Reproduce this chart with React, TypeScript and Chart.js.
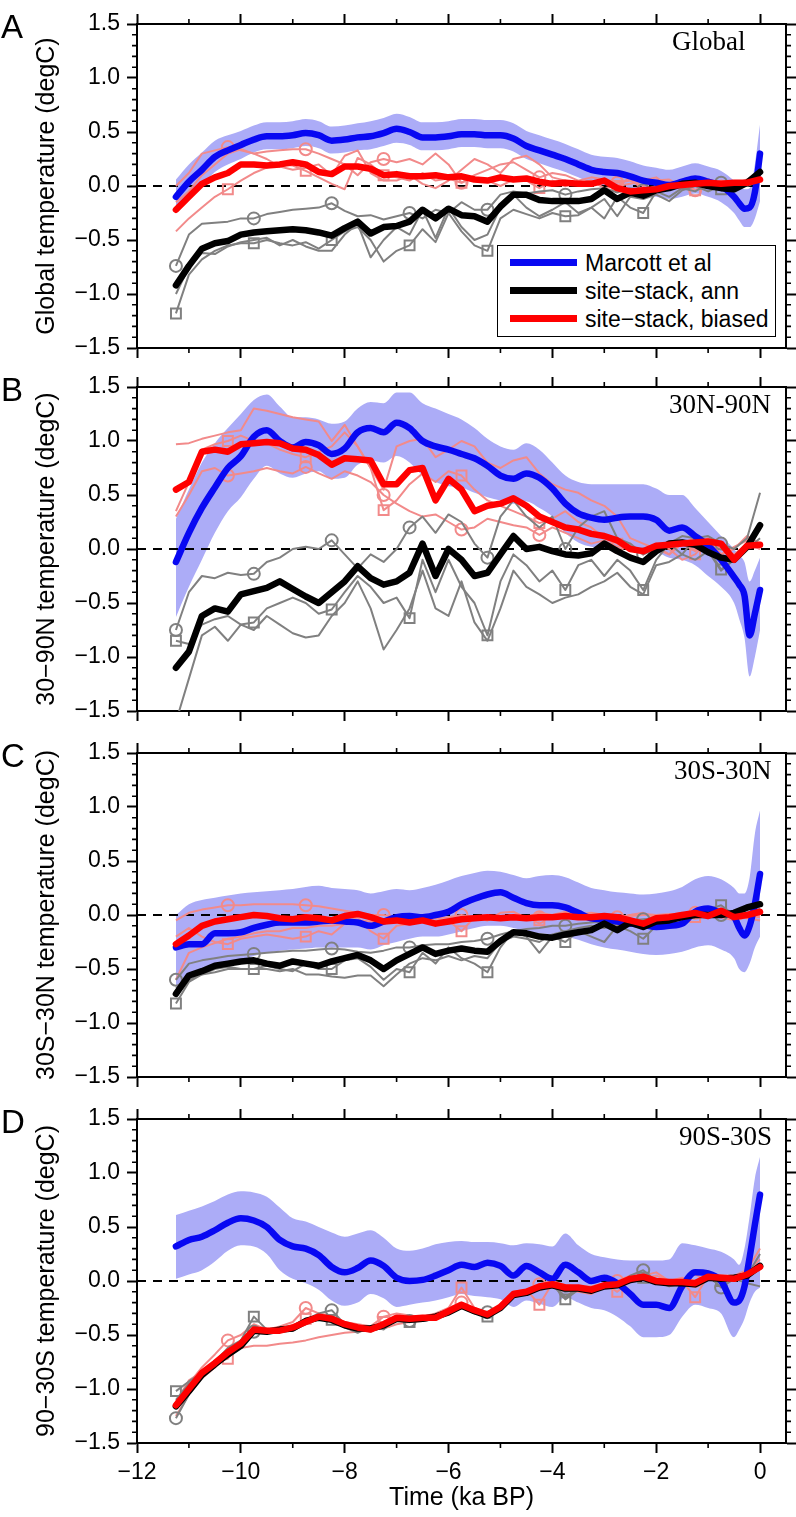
import React, { useEffect, useRef } from "react";
import { Chart, registerables } from "chart.js";
Chart.register(...registerables);

const FONT = "'Liberation Sans', Arial, Helvetica, sans-serif";
Chart.defaults.font.family = FONT;
Chart.defaults.color = "#000";

// ---------- axes / categories ----------
const T = [
  -11.25, -11, -10.75, -10.5, -10.25, -10, -9.75, -9.5, -9.25, -9,
  -8.75, -8.5, -8.25, -8, -7.75, -7.5, -7.25, -7, -6.75, -6.5,
  -6.25, -6, -5.75, -5.5, -5.25, -5, -4.75, -4.5, -4.25, -4,
  -3.75, -3.5, -3.25, -3, -2.75, -2.5, -2.25, -2, -1.75, -1.5,
  -1.25, -1, -0.75, -0.5, -0.25, 0,
];
const T_M = [
  -11.25, -11, -10.75, -10.5, -10.25, -10, -9.75, -9.5, -9.25, -9,
  -8.75, -8.5, -8.25, -8, -7.75, -7.5, -7.25, -7, -6.75, -6.5,
  -6.25, -6, -5.75, -5.5, -5.25, -5, -4.75, -4.5, -4.25, -4,
  -3.75, -3.5, -3.25, -3, -2.75, -2.5, -2.25, -2, -1.75, -1.5,
  -1.25, -1, -0.75, -0.5, -0.4, -0.3, -0.2, -0.1, 0,
];
const X_TICKS = [-12, -10, -8, -6, -4, -2, 0];
const X_MINOR = [-11, -9, -7, -5, -3, -1];
const Y_TICKS = [-1.5, -1, -0.5, 0, 0.5, 1, 1.5];
const Y_MINOR = [-1.4, -1.3, -1.2, -1.1, -0.9, -0.8, -0.7, -0.6, -0.4, -0.3, -0.2, -0.1,
  0.1, 0.2, 0.3, 0.4, 0.6, 0.7, 0.8, 0.9, 1.1, 1.2, 1.3, 1.4];
const ZERO_X = [-12, 0.5];
const ZERO_Y = [0, 0];
const GRAY_MARKS = [-11.25, -9.75, -8.25, -6.75, -5.25, -3.75, -2.25, -0.75];
const SAL_MARKS = [-10.25, -8.75, -7.25, -5.75, -4.25, -2.75, -1.25];
const LEGEND_LABELS = ["Marcott et al", "site\u2212stack, ann", "site\u2212stack, biased"];
const X_TITLE = "Time (ka BP)";

// ---------- Panel A : Global ----------
const A_BLUE = [
  -0.1, 0.04, 0.15, 0.27, 0.33, 0.38, 0.43, 0.46, 0.46, 0.47,
  0.49, 0.47, 0.42, 0.43, 0.45, 0.46, 0.49, 0.53, 0.5, 0.45,
  0.45, 0.46, 0.48, 0.48, 0.47, 0.47, 0.44, 0.37, 0.33, 0.29,
  0.25, 0.2, 0.15, 0.13, 0.12, 0.09, 0.05, 0.03, 0.01, 0.04,
  0.07, 0.04, 0.0, -0.1, -0.16, -0.21, -0.2, -0.06, 0.3,
];
const A_HI = [
  0.06, 0.2, 0.31, 0.42, 0.47, 0.51, 0.56, 0.59, 0.59, 0.6,
  0.62, 0.6, 0.55, 0.56, 0.58, 0.6, 0.63, 0.67, 0.64, 0.59,
  0.59, 0.6, 0.62, 0.62, 0.61, 0.61, 0.58, 0.51, 0.47, 0.43,
  0.39, 0.34, 0.29, 0.27, 0.26, 0.23, 0.19, 0.17, 0.15, 0.18,
  0.21, 0.18, 0.14, 0.05, 0.0, -0.03, -0.02, 0.2, 0.57,
];
const A_LO = [
  -0.24, -0.1, 0.01, 0.13, 0.2, 0.25, 0.31, 0.34, 0.34, 0.35,
  0.37, 0.35, 0.3, 0.31, 0.33, 0.34, 0.37, 0.4, 0.38, 0.33,
  0.33, 0.34, 0.36, 0.36, 0.35, 0.35, 0.32, 0.25, 0.21, 0.17,
  0.13, 0.08, 0.03, 0.0, -0.01, -0.04, -0.08, -0.1, -0.12, -0.1,
  -0.07, -0.1, -0.15, -0.25, -0.32, -0.38, -0.38, -0.3, -0.14,
];
const A_BLACK = [
  -0.92, -0.74, -0.58, -0.53, -0.51, -0.45, -0.43, -0.42, -0.41, -0.4,
  -0.41, -0.43, -0.46, -0.39, -0.33, -0.44, -0.38, -0.37, -0.33, -0.22,
  -0.3, -0.21, -0.27, -0.28, -0.33, -0.19, -0.08, -0.08, -0.13, -0.14,
  -0.14, -0.14, -0.12, -0.04, -0.12, -0.06, -0.09, -0.04, -0.02, 0.02,
  0.03, 0.0, -0.02, -0.03, 0.03, 0.13,
];
const A_RED = [
  -0.22, -0.1, 0.02, 0.08, 0.12, 0.2, 0.2, 0.19, 0.2, 0.22,
  0.2, 0.13, 0.11, 0.18, 0.18, 0.16, 0.1, 0.11, 0.09, 0.09,
  0.1, 0.08, 0.09, 0.06, 0.05, 0.08, 0.06, 0.07, 0.04, 0.02,
  0.03, 0.02, 0.02, 0.05, -0.02, -0.05, -0.04, -0.03, 0.0, 0.01,
  0.02, 0.03, 0.02, 0.03, 0.03, 0.06,
];
const A_GRAY1 = [
  -0.74, -0.45, -0.35, -0.34, -0.33, -0.3, -0.3, -0.26, -0.24, -0.22,
  -0.21, -0.2, -0.16, -0.23, -0.28, -0.27, -0.31, -0.28, -0.25, -0.3,
  -0.22, -0.25, -0.15, -0.22, -0.22, -0.08, -0.05, -0.07, -0.05, -0.04,
  -0.08, -0.05, -0.03, -0.02, -0.06, -0.02, -0.04, 0.0, 0.02, -0.02,
  0.03, 0.05, 0.03, 0.0, 0.0, 0.05,
];
const A_GRAY2 = [
  -1.0, -0.75, -0.62, -0.63, -0.56, -0.52, -0.5, -0.48, -0.55, -0.5,
  -0.56, -0.6, -0.6, -0.45, -0.35, -0.66, -0.5, -0.38, -0.45, -0.22,
  -0.48, -0.2, -0.38, -0.5, -0.45, -0.2, -0.08, -0.2, -0.28, -0.22,
  -0.15, -0.25, -0.2, -0.12, -0.28, -0.1, -0.12, -0.08, -0.14, -0.04,
  0.0, -0.05, 0.0, -0.05, 0.02, 0.1,
];
const A_GRAY3 = [
  -1.18, -0.82, -0.68, -0.6, -0.55, -0.53, -0.53, -0.5, -0.53, -0.55,
  -0.52, -0.58, -0.5, -0.42, -0.38, -0.5, -0.7, -0.6, -0.55, -0.4,
  -0.52, -0.25, -0.42, -0.55, -0.6, -0.3, -0.22, -0.26, -0.3, -0.25,
  -0.28, -0.27, -0.2, -0.3, -0.1, -0.2, -0.25, -0.05, -0.1, -0.02,
  -0.05, 0.02, -0.03, 0.0, 0.03, 0.07,
];
const A_SAL1 = [
  0.0, 0.12, 0.3, 0.33, 0.36, 0.33, 0.3, 0.32, 0.33, 0.34,
  0.34, 0.3, 0.25, 0.2, 0.1, 0.22, 0.25, 0.22, 0.25, 0.2,
  0.3, 0.2, 0.03, 0.1, 0.15, 0.2, 0.22, 0.15, 0.08, 0.12,
  0.1, 0.05, 0.08, 0.06, 0.03, 0.05, 0.0, 0.05, 0.06, 0.0,
  -0.04, 0.02, 0.05, 0.03, 0.05, 0.05,
];
const A_SAL2 = [
  -0.42, -0.3, -0.2, -0.1, -0.03, 0.05, 0.12, 0.17, 0.2, 0.19,
  0.14, 0.08, 0.02, -0.03, 0.26, 0.2, 0.1, 0.08, 0.05, 0.12,
  0.05, 0.07, 0.03, 0.08, 0.05, 0.0, 0.06, 0.05, -0.02, 0.05,
  0.0, 0.03, 0.05, -0.02, 0.0, 0.08, -0.05, 0.0, 0.03, 0.05,
  -0.04, 0.02, 0.0, 0.03, 0.05, 0.08,
];
const A_SAL3 = [
  -0.15, -0.05, 0.1, 0.2, 0.3, 0.34, 0.3, 0.25, 0.18, 0.15,
  0.17, 0.2, 0.1, 0.28, 0.33, 0.12, 0.05, 0.05, 0.1, 0.02,
  -0.02, 0.05, 0.15, 0.25, 0.2, 0.12, 0.25, 0.28, 0.2, 0.08,
  0.05, 0.02, 0.0, 0.05, 0.0, 0.02, 0.05, 0.08, 0.0, 0.06,
  0.02, 0.0, -0.03, 0.02, 0.06, 0.1,
];

// ---------- Panel B : 30N-90N ----------
const B_BLUE = [
  -0.12, 0.15, 0.38, 0.57, 0.75, 0.86, 1.04, 1.1, 1.0, 0.94,
  0.99, 0.96, 0.88, 0.93, 1.08, 1.12, 1.08, 1.17, 1.12, 1.0,
  0.95, 0.92, 0.88, 0.84, 0.77, 0.68, 0.65, 0.7, 0.66, 0.56,
  0.42, 0.33, 0.29, 0.27, 0.29, 0.3, 0.3, 0.27, 0.17, 0.2,
  0.12, 0.03, -0.1, -0.26, -0.33, -0.43, -0.8, -0.6, -0.38,
];
const B_HI = [
  0.28, 0.55, 0.8, 0.98, 1.12, 1.25, 1.38, 1.43, 1.32, 1.22,
  1.22, 1.2, 1.16, 1.18, 1.3, 1.36, 1.35, 1.45, 1.45, 1.35,
  1.3, 1.25, 1.2, 1.12, 1.02, 0.95, 0.92, 0.98, 0.92, 0.8,
  0.68, 0.62, 0.6, 0.6, 0.6, 0.6, 0.6, 0.56, 0.5, 0.5,
  0.38, 0.25, 0.12, 0.0, -0.06, -0.12, -0.3, -0.2, -0.08,
];
const B_LO = [
  -0.63, -0.35, -0.1, 0.15, 0.35, 0.48, 0.65, 0.77, 0.7, 0.66,
  0.7, 0.72, 0.65, 0.66, 0.78, 0.82, 0.8, 0.86, 0.8, 0.68,
  0.62, 0.58, 0.57, 0.52, 0.48, 0.45, 0.42, 0.44, 0.38, 0.3,
  0.15, 0.06, 0.02, 0.0, 0.0, 0.0, -0.02, -0.03, -0.08, -0.1,
  -0.15, -0.25, -0.35, -0.5, -0.65, -0.82, -1.18, -1.0, -0.75,
];
const B_BLACK = [
  -1.1, -0.95, -0.62, -0.55, -0.58, -0.42, -0.39, -0.36, -0.3, -0.37,
  -0.44, -0.5, -0.4, -0.3, -0.16, -0.27, -0.33, -0.3, -0.22, 0.05,
  -0.25, 0.0, -0.1, -0.25, -0.22, -0.05, 0.12, 0.0, 0.02, -0.02,
  -0.05, -0.06, -0.04, 0.05, -0.02, -0.08, -0.12, -0.02, 0.05, 0.06,
  0.04, -0.03, -0.08, -0.1, 0.02, 0.22,
];
const B_RED = [
  0.55, 0.62, 0.9, 0.92, 0.9, 0.97, 0.98, 0.99, 0.98, 0.93,
  0.92, 0.87, 0.78, 0.84, 0.83, 0.82, 0.6, 0.6, 0.73, 0.75,
  0.45, 0.65, 0.55, 0.35, 0.4, 0.42, 0.47, 0.4, 0.3, 0.25,
  0.2, 0.18, 0.14, 0.12, 0.08, 0.0, -0.02, 0.03, 0.04, 0.05,
  0.06, 0.07, 0.05, -0.1, 0.03, 0.04,
];
const B_GRAY1 = [
  -0.75, -0.4, -0.25, -0.27, -0.22, -0.24, -0.23, -0.12, -0.08, 0.0,
  0.02, 0.0, 0.08, -0.05, -0.18, -0.05, -0.12, 0.0, 0.2, 0.3,
  0.15, 0.32, 0.25, 0.05, -0.08, 0.3, 0.45, 0.3, 0.2, 0.3,
  0.0, 0.2, 0.3, 0.35, 0.1, 0.05, -0.05, 0.0, 0.05, 0.12,
  0.1, 0.12, 0.05, 0.0, 0.1, 0.52,
];
const B_GRAY2 = [
  -1.6, -1.2, -0.8, -0.72, -0.85, -0.7, -0.75, -0.62, -0.7, -0.78,
  -0.82, -0.8, -0.62, -0.5, -0.3, -0.55, -0.93, -0.75, -0.55, -0.2,
  -0.55, -0.62, -0.3, -0.68, -0.85, -0.55, -0.2, -0.35, -0.42, -0.5,
  -0.45, -0.42, -0.35, -0.3, -0.22, -0.35, -0.42, -0.15, -0.12, -0.05,
  -0.1, -0.02, -0.2, -0.1, 0.0, 0.05,
];
const B_GRAY3 = [
  -0.85, -0.88, -0.7, -0.65, -0.62, -0.7, -0.68, -0.55, -0.5, -0.45,
  -0.5, -0.6, -0.56, -0.4, -0.25, -0.35, -0.5, -0.45, -0.64, -0.1,
  -0.4, -0.1, -0.35, -0.5, -0.8, -0.3, -0.05, -0.15, -0.3, -0.2,
  -0.38, -0.15, -0.1, -0.25, -0.1, -0.2, -0.38, -0.1, 0.05, -0.05,
  0.1, 0.0, -0.19, -0.1, 0.0, 0.1,
];
const B_SAL_HIGH = [
  0.97, 0.98, 1.02, 1.05, 1.08, 1.1, 1.3, 1.28, 1.25, 1.22,
  1.2, 1.18, 1.0, 1.15, 0.95, 0.75, 0.55, 0.95, 1.0, 1.02,
  0.85, 0.92, 1.0, 0.95, 0.8, 0.75, 0.82, 0.85, 0.7, 0.6,
  0.55, 0.52, 0.45, 0.4, 0.3, 0.1, 0.05, 0.0, -0.05, 0.05,
  -0.02, 0.08, -0.05, 0.0, 0.12, 0.05,
];
const B_SAL_CIRC = [
  0.3, 0.5, 0.72, 0.75, 0.68, 0.7, 0.72, 0.75, 0.72, 0.7,
  0.76, 0.7, 0.65, 0.72, 0.68, 0.62, 0.5, 0.42, 0.35, 0.3,
  0.32, 0.25, 0.18, 0.2, 0.28, 0.25, 0.22, 0.2, 0.13, 0.2,
  0.15, 0.1, 0.05, 0.08, 0.02, 0.05, -0.05, 0.02, -0.05, 0.08,
  0.05, 0.1, 0.0, -0.05, 0.05, 0.0,
];
const B_SAL_SQ = [
  0.35, 0.62, 0.92, 0.97, 1.0, 1.05, 1.0, 0.98, 0.92, 0.88,
  0.85, 0.9, 0.95, 1.08, 0.95, 0.75, 0.36, 0.45, 0.6, 0.7,
  0.62, 0.72, 0.68, 0.55, 0.45, 0.4, 0.35, 0.3, 0.24, 0.28,
  0.35, 0.25, 0.2, 0.1, 0.05, 0.0, -0.05, 0.05, 0.0, -0.1,
  -0.05, 0.08, -0.05, 0.02, 0.08, 0.0,
];

// ---------- Panel C : 30S-30N ----------
const C_BLUE = [
  -0.3, -0.27, -0.27, -0.17, -0.17, -0.16, -0.12, -0.09, -0.07, -0.07,
  -0.07, -0.06, -0.05, -0.06, -0.07, -0.1, -0.06, -0.02, -0.01, -0.02,
  0.0, 0.03, 0.1, 0.15, 0.19, 0.21, 0.16, 0.11, 0.09, 0.09,
  0.07, 0.02, -0.03, -0.04, -0.06, -0.08, -0.09, -0.11, -0.1, -0.08,
  0.03, 0.06, 0.02, -0.02, -0.12, -0.19, -0.1, 0.1, 0.38,
];
const C_HI = [
  0.0, 0.1, 0.14, 0.16, 0.18, 0.2, 0.21, 0.22, 0.23, 0.24,
  0.26, 0.27, 0.25, 0.24, 0.23, 0.2, 0.22, 0.24, 0.23, 0.25,
  0.28, 0.32, 0.36, 0.39, 0.41, 0.4, 0.37, 0.34, 0.36, 0.37,
  0.35, 0.3, 0.25, 0.23, 0.21, 0.2, 0.19, 0.2, 0.22, 0.26,
  0.33, 0.36, 0.33, 0.25, 0.2, 0.2, 0.35, 0.75, 0.97,
];
const C_LO = [
  -0.7, -0.6, -0.55, -0.48, -0.45, -0.42, -0.38, -0.35, -0.33, -0.32,
  -0.31, -0.3, -0.3, -0.3, -0.3, -0.32, -0.28, -0.25, -0.22, -0.2,
  -0.2, -0.18, -0.15, -0.12, -0.1, -0.1, -0.12, -0.15, -0.17, -0.18,
  -0.2, -0.23, -0.27, -0.3, -0.32, -0.34, -0.36, -0.37, -0.36, -0.34,
  -0.3, -0.28, -0.32, -0.4, -0.5, -0.53, -0.45, -0.3, -0.2,
];
const C_BLACK = [
  -0.73, -0.56, -0.52, -0.47, -0.45, -0.43, -0.42, -0.45, -0.47, -0.43,
  -0.45, -0.47, -0.43, -0.4, -0.37, -0.42, -0.5, -0.42, -0.36, -0.3,
  -0.36, -0.33, -0.31, -0.33, -0.34, -0.24, -0.16, -0.17, -0.2, -0.21,
  -0.18, -0.16, -0.14, -0.08, -0.14, -0.07, -0.11, -0.06, -0.05, -0.02,
  0.0, 0.0, 0.0, 0.02, 0.07, 0.1,
];
const C_RED = [
  -0.27, -0.19, -0.1, -0.06, -0.04, -0.02, 0.0, -0.01, -0.03, -0.04,
  -0.02, -0.03, -0.05, -0.01, 0.01, -0.02, -0.06, -0.05, -0.07, -0.05,
  -0.08, -0.06, -0.04, -0.03, -0.02, -0.03, -0.02, -0.03, -0.02, -0.02,
  -0.01, -0.02, -0.02, -0.01, -0.02, -0.05, -0.08, -0.03, -0.02, 0.0,
  0.02, -0.01, 0.04, -0.02, 0.0, 0.03,
];
const C_GRAY1 = [
  -0.6, -0.45, -0.42, -0.4, -0.38, -0.37, -0.36, -0.35, -0.34, -0.33,
  -0.33, -0.32, -0.31, -0.32, -0.34, -0.35, -0.33, -0.3, -0.3, -0.28,
  -0.27, -0.27, -0.25, -0.24, -0.22, -0.18, -0.15, -0.13, -0.12, -0.1,
  -0.1, -0.08, -0.07, -0.06, -0.05, -0.05, -0.04, -0.03, -0.03, -0.02,
  -0.01, -0.01, 0.0, 0.0, 0.01, 0.02,
];
const C_GRAY2 = [
  -0.68, -0.6, -0.55, -0.53, -0.5, -0.5, -0.5, -0.5, -0.52, -0.5,
  -0.55, -0.55, -0.57, -0.58, -0.56, -0.56, -0.66, -0.55, -0.45, -0.4,
  -0.42, -0.38, -0.42, -0.38, -0.4, -0.25, -0.2, -0.22, -0.25, -0.18,
  -0.15, -0.12, -0.1, -0.12, -0.08, -0.1, -0.05, -0.05, -0.02, 0.0,
  0.02, 0.01, 0.0, -0.02, 0.05, 0.05,
];
const C_GRAY3 = [
  -0.82, -0.62, -0.55, -0.5, -0.48, -0.5, -0.5, -0.47, -0.5, -0.52,
  -0.45, -0.5, -0.5, -0.42, -0.4, -0.48, -0.6, -0.5, -0.53, -0.35,
  -0.45, -0.3, -0.4, -0.45, -0.53, -0.3, -0.15, -0.2, -0.35, -0.2,
  -0.25, -0.15, -0.2, -0.25, -0.1, -0.15, -0.22, -0.1, -0.05, -0.02,
  0.02, 0.05, 0.09, 0.0, 0.05, 0.1,
];
const C_SAL1 = [
  -0.05, 0.02, 0.05, 0.07, 0.09, 0.09, 0.1, 0.1, 0.1, 0.1,
  0.09, 0.08, 0.06, 0.04, 0.02, 0.0, 0.0, -0.02, 0.0, -0.02,
  -0.03, -0.02, 0.0, -0.02, -0.04, -0.02, 0.0, -0.03, -0.02, 0.0,
  -0.02, -0.03, -0.01, 0.0, -0.02, -0.01, 0.0, 0.0, 0.01, -0.01,
  0.02, 0.0, -0.02, 0.0, -0.03, -0.05,
];
const C_SAL2 = [
  -0.2, -0.12, -0.2, -0.25, -0.27, -0.22, -0.2, -0.18, -0.2, -0.22,
  -0.2, -0.15, -0.18, -0.08, -0.02, -0.15, -0.22, -0.1, -0.08, -0.05,
  -0.1, -0.05, -0.15, -0.02, -0.05, 0.02, 0.03, -0.03, -0.05, 0.0,
  0.03, 0.0, -0.02, 0.0, -0.05, 0.0, 0.02, -0.03, 0.0, 0.02,
  -0.02, 0.05, 0.0, -0.03, 0.0, -0.02,
];
const C_SAL3 = [
  -0.6, -0.35, -0.3, -0.26, -0.22, -0.2, -0.17, -0.15, -0.15, -0.12,
  -0.12, -0.1, -0.1, -0.08, -0.05, -0.06, -0.08, -0.06, -0.05, -0.06,
  -0.05, -0.04, -0.05, -0.03, -0.05, -0.02, 0.0, -0.02, 0.02, 0.0,
  -0.02, 0.0, 0.02, 0.0, -0.02, 0.0, 0.01, 0.0, -0.02, 0.0,
  0.02, 0.0, -0.02, -0.05, -0.02, 0.0,
];

// ---------- Panel D : 90S-30S ----------
const D_BLUE = [
  0.32, 0.38, 0.41, 0.47, 0.54, 0.58, 0.56, 0.5, 0.38, 0.32,
  0.3, 0.24, 0.13, 0.08, 0.12, 0.19, 0.14, 0.03, 0.0, 0.01,
  0.05, 0.1, 0.15, 0.13, 0.17, 0.14, 0.05, 0.14, 0.08, 0.02,
  0.15, 0.08, 0.0, 0.03, -0.02, -0.12, -0.22, -0.22, -0.25, -0.05,
  0.08, 0.07, 0.0, -0.2, -0.18, -0.05, 0.22, 0.52, 0.8,
];
const D_HI = [
  0.61, 0.65, 0.69, 0.74, 0.8, 0.83, 0.82, 0.78, 0.68, 0.58,
  0.55, 0.5, 0.45, 0.41, 0.44, 0.47, 0.4, 0.3, 0.28, 0.3,
  0.34, 0.36, 0.37, 0.36, 0.36, 0.35, 0.33, 0.35, 0.34, 0.32,
  0.44, 0.33, 0.25, 0.22, 0.2, 0.19, 0.19, 0.19, 0.2, 0.35,
  0.33, 0.3, 0.27, 0.2, 0.15, 0.3, 0.6, 0.95, 1.15,
];
const D_LO = [
  0.02, 0.06, 0.1, 0.18, 0.28, 0.33, 0.32, 0.25, 0.1, 0.02,
  -0.02, -0.08, -0.18, -0.23, -0.2, -0.12, -0.16, -0.24, -0.22, -0.2,
  -0.18, -0.15, -0.12, -0.14, -0.15, -0.17, -0.24, -0.18, -0.21, -0.24,
  -0.15, -0.2, -0.25, -0.27, -0.33, -0.42, -0.52, -0.52, -0.5, -0.33,
  -0.22, -0.25, -0.3, -0.52, -0.45, -0.35, -0.2, -0.1, -0.06,
];
const D_BLACK = [
  -1.16, -1.02, -0.87, -0.77, -0.68, -0.6, -0.46, -0.47, -0.45, -0.44,
  -0.37, -0.34, -0.36, -0.41, -0.44, -0.44, -0.41, -0.35, -0.36, -0.35,
  -0.33, -0.29, -0.23, -0.28, -0.32, -0.25, -0.13, -0.11, -0.06, -0.04,
  -0.07, -0.07, -0.09, -0.05, -0.04, 0.01, 0.03, -0.01, -0.02, -0.02,
  -0.03, 0.03, 0.02, 0.03, 0.05, 0.14,
];
const D_RED = [
  -1.15, -1.0, -0.85, -0.76, -0.66, -0.58, -0.45, -0.46, -0.46, -0.43,
  -0.38, -0.33, -0.35, -0.4, -0.43, -0.45, -0.4, -0.34, -0.35, -0.34,
  -0.34, -0.28, -0.22, -0.27, -0.31, -0.24, -0.12, -0.1, -0.05, -0.03,
  -0.06, -0.06, -0.08, -0.04, -0.03, 0.02, 0.04, 0.0, -0.01, -0.01,
  -0.02, 0.04, 0.03, 0.02, 0.06, 0.13,
];
const D_GRAY1 = [
  -1.27, -1.05, -0.85, -0.75, -0.62, -0.55, -0.47, -0.46, -0.45, -0.42,
  -0.36, -0.3, -0.27, -0.4, -0.44, -0.47, -0.4, -0.35, -0.37, -0.36,
  -0.34, -0.3, -0.24, -0.3, -0.29, -0.25, -0.14, -0.1, -0.06, -0.05,
  -0.1, -0.08, -0.1, -0.06, -0.05, 0.05, 0.1, 0.0, -0.05, -0.02,
  -0.03, 0.05, -0.06, 0.02, -0.02, -0.05,
];
const D_GRAY2 = [
  -1.1, -0.95, -0.88, -0.8, -0.68, -0.6, -0.45, -0.48, -0.47, -0.46,
  -0.4, -0.35, -0.36, -0.43, -0.48, -0.42, -0.45, -0.35, -0.36, -0.37,
  -0.35, -0.3, -0.22, -0.27, -0.33, -0.24, -0.12, -0.1, -0.05, -0.02,
  -0.15, -0.06, -0.1, -0.03, -0.02, 0.0, 0.03, -0.02, 0.0, -0.02,
  -0.05, 0.06, 0.03, 0.0, 0.05, 0.25,
];
const D_GRAY3 = [
  -1.02, -0.93, -0.85, -0.78, -0.7, -0.55, -0.33, -0.45, -0.44, -0.42,
  -0.4, -0.35, -0.36, -0.41, -0.45, -0.43, -0.42, -0.36, -0.38, -0.35,
  -0.34, -0.29, -0.24, -0.28, -0.33, -0.25, -0.12, -0.1, -0.06, -0.03,
  -0.17, -0.08, -0.1, -0.06, -0.03, 0.02, 0.03, -0.02, -0.01, -0.02,
  -0.03, 0.04, 0.0, 0.02, 0.05, 0.12,
];
const D_SAL1 = [
  -1.15, -0.95, -0.8, -0.68, -0.55, -0.5, -0.4, -0.45, -0.42, -0.38,
  -0.25, -0.3, -0.32, -0.38, -0.4, -0.42, -0.33, -0.3, -0.32, -0.33,
  -0.3, -0.25, -0.2, -0.26, -0.3, -0.22, -0.1, -0.08, -0.03, 0.0,
  -0.04, -0.05, -0.05, -0.02, 0.0, 0.05, 0.05, 0.08, 0.0, 0.03,
  0.0, 0.06, 0.05, 0.05, 0.1, 0.3,
];
const D_SAL2 = [
  -1.12, -0.92, -0.84, -0.75, -0.72, -0.55, -0.42, -0.44, -0.45, -0.42,
  -0.35, -0.32, -0.34, -0.38, -0.42, -0.44, -0.38, -0.33, -0.34, -0.33,
  -0.33, -0.25, -0.06, -0.25, -0.3, -0.22, -0.1, -0.08, -0.22, -0.02,
  -0.15, -0.05, -0.1, -0.02, -0.1, 0.0, 0.05, 0.02, -0.02, 0.0,
  -0.15, 0.05, 0.03, 0.05, 0.08, 0.2,
];
const D_SAL3 = [
  -1.25, -1.05, -0.9, -0.8, -0.7, -0.62, -0.6, -0.6, -0.58, -0.57,
  -0.55, -0.52, -0.5, -0.48, -0.47, -0.45, -0.44, -0.4, -0.38, -0.37,
  -0.35, -0.3, -0.25, -0.28, -0.3, -0.25, -0.15, -0.12, -0.08, -0.05,
  -0.08, -0.1, -0.12, -0.05, -0.03, 0.0, 0.02, 0.05, 0.0, 0.02,
  0.0, 0.05, 0.02, 0.0, 0.05, 0.15,
];

// gray: [circle, plain, square]; sal: [circle, square, plain]
const PANELS = [
  { letter: "A", region: "Global", yTitle: "Global temperature (degC)",
    blue: A_BLUE, hi: A_HI, lo: A_LO, black: A_BLACK, red: A_RED,
    gray: [A_GRAY1, A_GRAY2, A_GRAY3], sal: [A_SAL1, A_SAL2, A_SAL3] },
  { letter: "B", region: "30N-90N", yTitle: "30\u221290N temperature (degC)",
    blue: B_BLUE, hi: B_HI, lo: B_LO, black: B_BLACK, red: B_RED,
    gray: [B_GRAY1, B_GRAY2, B_GRAY3], sal: [B_SAL_CIRC, B_SAL_SQ, B_SAL_HIGH] },
  { letter: "C", region: "30S-30N", yTitle: "30S\u221230N temperature (degC)",
    blue: C_BLUE, hi: C_HI, lo: C_LO, black: C_BLACK, red: C_RED,
    gray: [C_GRAY1, C_GRAY2, C_GRAY3], sal: [C_SAL1, C_SAL2, C_SAL3] },
  { letter: "D", region: "90S-30S", yTitle: "90\u221230S temperature (degC)",
    blue: D_BLUE, hi: D_HI, lo: D_LO, black: D_BLACK, red: D_RED,
    gray: [D_GRAY1, D_GRAY2, D_GRAY3], sal: [D_SAL1, D_SAL2, D_SAL3] },
];

// ---------- layout / style ----------
const W = 796;
const CHART_TOP = [24, 387, 753, 1119];
const PLOT_H = 324;
const TOP_BAND = 24;
const REGION_LEFT = [672, 669, 674, 679];
const BLUE = "#0808f2";
const RED = "#ff0000";
const GRAY = "#808080";
const SALMON = "#f28a8a";
const BAND = "#acacf7";
const LEGEND_COLORS = [BLUE, "#000000", RED];

const MINUS = "\u2212";
const fmt = (v: number, d: number) => (v < 0 ? MINUS : "") + Math.abs(v).toFixed(d);
const xy = (xs: number[], ys: number[]) => ys.map((y, i) => ({ x: xs[i], y }));
const markRadius = (marks: number[], r: number) => (c: any) =>
  c.type === "data" && c.raw && marks.indexOf(c.raw.x) >= 0 ? r : 0;

const thin = (data: any[], color: string, marks: number[] | null, style: string, order: number) => ({
  label: "",
  data,
  borderColor: color,
  borderWidth: 2,
  borderJoinStyle: "round",
  order,
  pointRadius: marks ? markRadius(marks, style === "rect" ? 7 : 6) : 0,
  pointStyle: style,
  pointBorderColor: color,
  pointBackgroundColor: "rgba(0,0,0,0)",
  pointBorderWidth: 2,
});

const thick = (label: string, data: any[], color: string, order: number, smooth: boolean) => ({
  label,
  data,
  borderColor: color,
  borderWidth: 6.5,
  borderJoinStyle: "round",
  borderCapStyle: "round",
  cubicInterpolationMode: smooth ? "monotone" : "default",
  pointRadius: 0,
  order,
});

const minorTicks = {
  id: "minorTicks",
  afterDraw(chart: any) {
    const { ctx, chartArea: a, scales } = chart;
    ctx.save();
    ctx.strokeStyle = "#000";
    ctx.lineWidth = 1.6;
    ctx.beginPath();
    for (const v of X_MINOR) {
      const px = scales.x.getPixelForValue(v);
      ctx.moveTo(px, a.top);
      ctx.lineTo(px, a.top - 5);
      ctx.moveTo(px, a.bottom);
      ctx.lineTo(px, a.bottom + 5);
    }
    for (const v of Y_MINOR) {
      const py = scales.y.getPixelForValue(v);
      ctx.moveTo(a.left, py);
      ctx.lineTo(a.left - 5, py);
      ctx.moveTo(a.right, py);
      ctx.lineTo(a.right + 5, py);
    }
    ctx.stroke();
    ctx.restore();
  },
};

function makeConfig(p: any, i: number): any {
  const last = i === PANELS.length - 1;
  const grid = { drawOnChartArea: false, drawTicks: true, tickLength: 10, tickWidth: 2, tickColor: "#000", color: "#000" };
  const border = { display: true, color: "#000", width: 2 };
  const setX = (s: any) => { s.ticks = X_TICKS.map((value) => ({ value })); };
  const setY = (s: any) => { s.ticks = Y_TICKS.map((value) => ({ value })); };
  const datasets = [
    thick(LEGEND_LABELS[2], xy(T, p.red), RED, 0, false),
    thick(LEGEND_LABELS[1], xy(T, p.black), "#000", 1, false),
    thick(LEGEND_LABELS[0], xy(T_M, p.blue), BLUE, 2, true),
    thin(xy(T, p.gray[0]), GRAY, GRAY_MARKS, "circle", 3),
    thin(xy(T, p.gray[1]), GRAY, null, "circle", 4),
    thin(xy(T, p.gray[2]), GRAY, GRAY_MARKS, "rect", 5),
    thin(xy(T, p.sal[0]), SALMON, SAL_MARKS, "circle", 6),
    thin(xy(T, p.sal[1]), SALMON, SAL_MARKS, "rect", 7),
    thin(xy(T, p.sal[2]), SALMON, null, "circle", 8),
    { label: "zero", data: xy(ZERO_X, ZERO_Y), borderColor: "#000", borderWidth: 2, borderDash: [9, 7], pointRadius: 0, order: 9 },
    { label: "band", data: xy(T_M, p.hi), borderColor: "rgba(0,0,0,0)", borderWidth: 1, backgroundColor: BAND,
      fill: "+1", pointRadius: 0, cubicInterpolationMode: "monotone", order: 10 },
    { label: "band-lo", data: xy(T_M, p.lo), borderColor: "rgba(0,0,0,0)", borderWidth: 1, fill: false,
      pointRadius: 0, cubicInterpolationMode: "monotone", order: 11 },
  ];
  return {
    type: "line",
    data: { datasets },
    plugins: [minorTicks],
    options: {
      animation: false,
      responsive: false,
      devicePixelRatio: 1,
      events: [],
      layout: { padding: { top: 0, left: 0, right: 0, bottom: 0 } },
      plugins: { legend: { display: false }, tooltip: { enabled: false } },
      scales: {
        x: {
          type: "linear", axis: "x", position: "bottom", min: -12, max: 0.5,
          afterBuildTicks: setX,
          afterFit: (s: any) => { s.height = last ? 74 : 22; },
          ticks: { display: last, autoSkip: false, maxRotation: 0, padding: 6, font: { size: 23 }, color: "#000",
            callback: (v: number) => fmt(v, 0) },
          grid, border,
          title: { display: last, text: X_TITLE, font: { size: 25 }, color: "#000", padding: { top: 0, bottom: 4 } },
        },
        x2: {
          type: "linear", axis: "x", position: "top", min: -12, max: 0.5,
          afterBuildTicks: setX,
          afterFit: (s: any) => { s.height = TOP_BAND; },
          ticks: { display: false }, grid, border,
        },
        y: {
          type: "linear", axis: "y", position: "left", min: -1.5, max: 1.5,
          afterBuildTicks: setY,
          afterFit: (s: any) => { s.width = 137; },
          ticks: { padding: 7, font: { size: 23 }, color: "#000", callback: (v: number) => fmt(v, 1) },
          grid, border,
          title: { display: true, text: p.yTitle, font: { size: 25 }, color: "#000", padding: { top: 32, bottom: 0 } },
        },
        y2: {
          type: "linear", axis: "y", position: "right", min: -1.5, max: 1.5,
          afterBuildTicks: setY,
          afterFit: (s: any) => { s.width = 10; },
          ticks: { display: false }, grid, border,
        },
      },
    },
  };
}

function Panel({ p, i }: { p: any; i: number }) {
  const ref = useRef<HTMLCanvasElement>(null);
  const last = i === PANELS.length - 1;
  const h = TOP_BAND + PLOT_H + (last ? 74 : 22);
  useEffect(() => {
    const chart = new Chart(ref.current as HTMLCanvasElement, makeConfig(p, i));
    return () => chart.destroy();
  }, []);
  return (
    <canvas ref={ref} width={W} height={h}
      style={{ position: "absolute", left: 0, top: CHART_TOP[i] - TOP_BAND, width: W, height: h, display: "block" }} />
  );
}

function Legend() {
  const rows = [18, 46, 74];
  return (
    <div style={{ position: "absolute", left: 497, top: 245, width: 279, height: 92, boxSizing: "border-box",
      border: "1.5px solid #000", background: "#fff" }}>
      {LEGEND_LABELS.map((lab, k) => (
        <React.Fragment key={lab}>
          <div style={{ position: "absolute", left: 12, top: rows[k] - 3.5 - 1.5, width: 67, height: 7, background: LEGEND_COLORS[k] }} />
          <div style={{ position: "absolute", left: 87, top: rows[k] - 14 - 1.5, height: 28, lineHeight: "28px",
            fontFamily: FONT, fontSize: 23, color: "#000", whiteSpace: "nowrap" }}>{lab}</div>
        </React.Fragment>
      ))}
    </div>
  );
}

export default function App() {
  return (
    <div style={{ position: "absolute", left: 0, top: 0, width: W, height: 1517, overflow: "hidden", background: "#fff" }}>
      {PANELS.map((p, i) => <Panel key={p.letter} p={p} i={i} />)}
      {PANELS.map((p, i) => (
        <div key={"L" + p.letter} style={{ position: "absolute", left: 1, top: CHART_TOP[i] - 14, fontFamily: FONT,
          fontSize: 33, lineHeight: "33px", color: "#000" }}>{p.letter}</div>
      ))}
      {PANELS.map((p, i) => (
        <div key={"R" + p.letter} style={{ position: "absolute", left: REGION_LEFT[i], top: CHART_TOP[i] + 4,
          fontFamily: "'Liberation Serif', 'DejaVu Serif', serif", fontSize: 27, lineHeight: "27px", color: "#000",
          whiteSpace: "nowrap" }}>{p.region}</div>
      ))}
      <Legend />
    </div>
  );
}
